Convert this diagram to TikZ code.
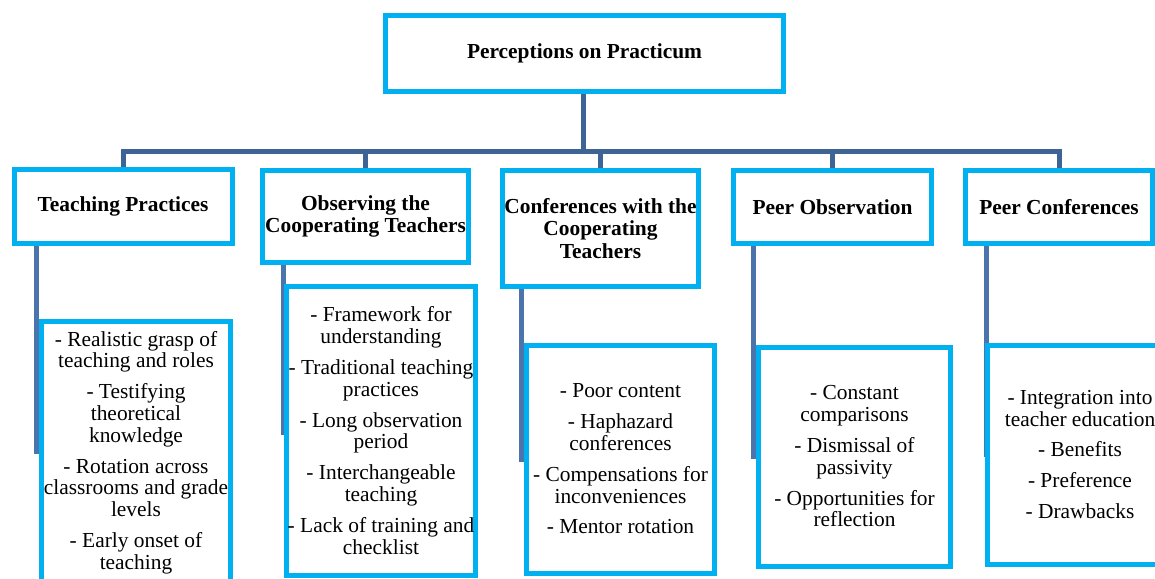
\documentclass[tikz,border=0pt]{standalone}
\usepackage{fontspec}
\setmainfont{Liberation Serif}
\usetikzlibrary{backgrounds}
\definecolor{boxblue}{RGB}{0,176,240}
\definecolor{busblue}{RGB}{62,100,150}
\definecolor{linkblue}{RGB}{75,115,172}
\begin{document}
\begin{tikzpicture}[x=1pt,y=-1pt,
  box/.style={draw=boxblue,line width=5pt,fill=white,inner sep=0pt,align=center,
    font=\fontsize{21.4}{21.8}\selectfont},
  head/.style={box,font=\bfseries\fontsize{21.4}{22.5}\selectfont},
  conn/.style={draw=busblue,line width=5pt},
  link/.style={draw=linkblue,line width=5pt}]
\useasboundingbox (0,0) rectangle (1155,578);
% level 0
\node[head,minimum width=398pt,minimum height=76pt] (top) at (584.5,53.5) {Perceptions on Practicum};
% level 1
\node[head,minimum width=218pt,minimum height=74pt] (tp) at (123,206.5) {Teaching Practices};
\node[head,minimum width=206pt,minimum height=92pt] (obs) at (365.5,216.5) {Observing the\\Cooperating Teachers};
\node[head,minimum width=196pt,minimum height=116pt] (conf) at (600.5,228.5) {Conferences with the\\Cooperating\\Teachers};
\node[head,minimum width=198pt,minimum height=73pt] (po) at (832.5,207) {Peer Observation};
\node[head,minimum width=187pt,minimum height=73pt] (pc) at (1059,207) {Peer Conferences};
% level 2
\node[box,minimum width=189pt,minimum height=262pt] (tp2) at (136,452.5)
  {- Realistic grasp of\\teaching and roles\\[9pt]- Testifying\\theoretical\\knowledge\\[9pt]- Rotation across\\classrooms and grade\\levels\\[9pt]- Early onset of\\teaching};
\node[box,minimum width=189pt,minimum height=289pt] (obs2) at (381,430.5)
  {- Framework for\\understanding\\[9pt]- Traditional teaching\\practices\\[9pt]- Long observation\\period\\[9pt]- Interchangeable\\teaching\\[9pt]- Lack of training and\\checklist};
\node[box,minimum width=188pt,minimum height=228pt] (conf2) at (620.5,459)
  {- Poor content\\[9pt]- Haphazard\\conferences\\[9pt]- Compensations for\\inconveniences\\[9pt]- Mentor rotation};
\node[box,minimum width=192pt,minimum height=219pt] (po2) at (854.5,456.5)
  {- Constant\\comparisons\\[9pt]- Dismissal of\\passivity\\[9pt]- Opportunities for\\reflection};
\node[box,minimum width=185pt,minimum height=219pt] (pc2) at (1080,454.5)
  {- Integration into\\teacher education\\[9pt]- Benefits\\[9pt]- Preference\\[9pt]- Drawbacks};
% connectors
\coordinate (bus) at (583,151.5);
\coordinate (tpe) at (36,454);
\coordinate (obse) at (283,435);
\coordinate (confe) at (521,462);
\coordinate (poe) at (753,459);
\coordinate (pce) at (986,457);
\begin{scope}[on background layer]
\draw[conn] (tp.north) |- (bus) -| (pc.north);
\draw[conn] (top.south -| bus) -- (bus);
\draw[conn] (obs.north) -- (obs.north |- bus);
\draw[conn] (conf.north) -- (conf.north |- bus);
\draw[conn] (po.north) -- (po.north |- bus);
\draw[link] (tp.south -| tpe) -- (tpe);
\draw[link] (obs.south -| obse) -- (obse);
\draw[link] (conf.south -| confe) -- (confe);
\draw[link] (po.south -| poe) -- (poe);
\draw[link] (pc.south -| pce) -- (pce);
\end{scope}
\end{tikzpicture}
\end{document}
